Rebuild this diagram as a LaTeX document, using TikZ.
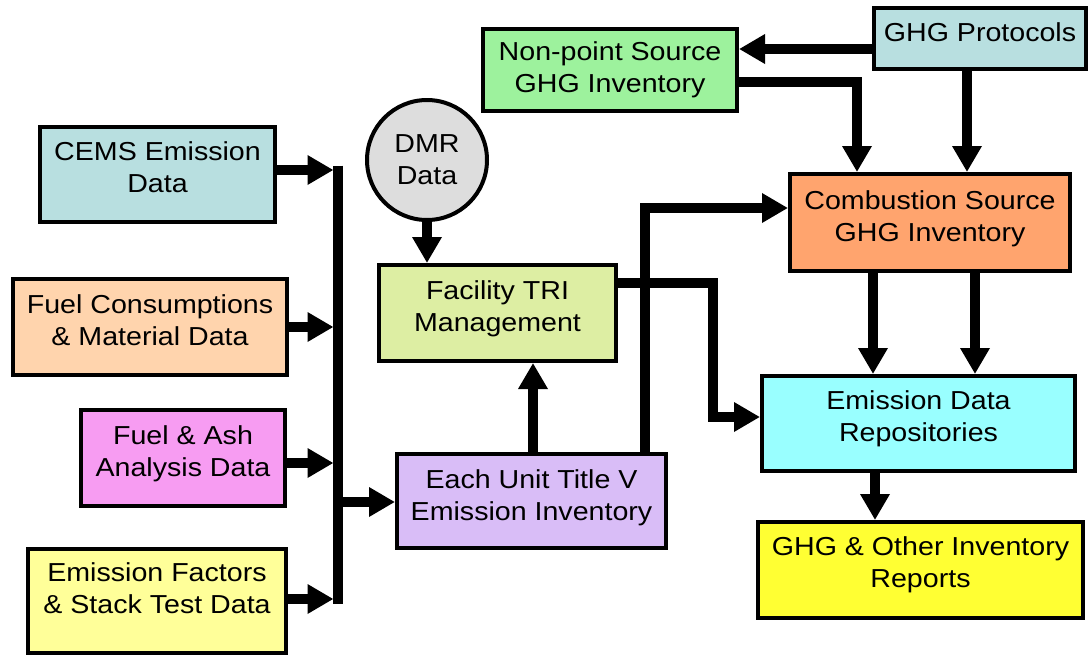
\documentclass[tikz,border=0pt]{standalone}
\usepackage{fontspec}
\setmainfont{Liberation Sans}[FakeStretch=1.1]
\usetikzlibrary{arrows.meta}
\definecolor{cemsC}{HTML}{B8DFE0}
\definecolor{fuelC}{HTML}{FFD4AD}
\definecolor{ashC}{HTML}{F79CF2}
\definecolor{efC}{HTML}{FFFF99}
\definecolor{dmrC}{HTML}{DDDDDD}
\definecolor{triC}{HTML}{DDEEA3}
\definecolor{tvC}{HTML}{D9BDF7}
\definecolor{npC}{HTML}{9DF29D}
\definecolor{gpC}{HTML}{B8DFE0}
\definecolor{csC}{HTML}{FFA46E}
\definecolor{repC}{HTML}{99FFFF}
\definecolor{rptC}{HTML}{FFFF33}
\tikzset{
  box/.style={draw=black, line width=4pt, inner sep=2pt, align=center,
    font=\fontsize{26}{32}\selectfont, text=black},
  arr/.style={line width=9.5pt, -{Triangle[length=26pt,width=28pt]}},
  bar/.style={line width=9.5pt},
}
\begin{document}
\begin{tikzpicture}[x=1pt,y=-1pt]
\useasboundingbox (0,0) rectangle (1090,656);
% left input boxes
\node[box, fill=cemsC, minimum width=235pt, minimum height=95pt, text depth=15pt] (cems) at (157.5,174.5) {CEMS Emission\\Data};
\node[box, fill=fuelC, minimum width=274pt, minimum height=96pt, text depth=14pt] (fuel) at (150,327) {Fuel Consumptions\\\& Material Data};
\node[box, fill=ashC, minimum width=204pt, minimum height=96pt, text depth=13pt] (ash) at (183,458) {Fuel \& Ash\\Analysis Data};
\node[box, fill=efC, minimum width=258pt, minimum height=104pt, text depth=26pt] (ef) at (157,601) {Emission Factors\\\& Stack Test Data};
% middle
\node[box, circle, fill=dmrC, minimum size=120pt, inner sep=0pt] (dmr) at (427,160) {DMR\\Data};
\node[box, fill=triC, minimum width=237pt, minimum height=96pt, text depth=14pt] (tri) at (497.5,313) {Facility TRI\\Management};
\node[box, fill=tvC, minimum width=269pt, minimum height=94pt, text depth=12pt] (tv) at (531.5,501) {Each Unit Title V\\Emission Inventory};
% right
\node[box, fill=npC, minimum width=254pt, minimum height=82pt] (np) at (610,70) {Non-point Source\\GHG Inventory};
\node[box, fill=gpC, minimum width=212pt, minimum height=61pt, text depth=12pt] (gp) at (980,38.5) {GHG Protocols};
\node[box, fill=csC, minimum width=280pt, minimum height=97pt, text depth=13pt] (cs) at (930,222.5) {Combustion Source\\GHG Inventory};
\node[box, fill=repC, minimum width=313pt, minimum height=95pt, text depth=15pt] (rep) at (918.5,423.5) {Emission Data\\Repositories};
\node[box, fill=rptC, minimum width=325pt, minimum height=96pt, text depth=16pt] (rpt) at (920.5,570) {GHG \& Other Inventory\\Reports};
% bus
\coordinate (busTop) at (338,165.5);
\coordinate (busBot) at (338,603.5);
\coordinate (busIn) at (333.5,0);
\coordinate (busOut) at (338,502);
\draw[bar] (busTop) -- (busBot);
\draw[arr] ([yshift=4.5pt]cems.east) coordinate (a1) -- (a1 -| busIn);
\draw[arr] (fuel.east) -- (fuel.east -| busIn);
\draw[arr] ([yshift=-5pt]ash.east) coordinate (a3) -- (a3 -| busIn);
\draw[arr] ([yshift=2pt]ef.east) coordinate (a4) -- (a4 -| busIn);
\draw[arr] (busOut) -- (busOut -| tv.west);
% middle connectors
\draw[arr] (dmr.south) -- (dmr.south |- tri.north);
\draw[arr] ([xshift=1.5pt]tv.north) coordinate (t1) -- (t1 |- tri.south);
\draw[arr] ([xshift=113.5pt]tv.north) |- ([yshift=14.5pt]cs.west);
\coordinate (k) at (713,417);
\draw[arr] ([yshift=30pt]tri.east) -| (k) -- (k -| rep.west);
% right connectors
\draw[arr] ([yshift=-10.5pt]gp.west) coordinate (g1) -- (g1 -| np.east);
\draw[arr] ([yshift=-12pt]np.east) -| ([xshift=-73pt]cs.north);
\draw[arr] ([xshift=-13pt]gp.south) -- ([xshift=37pt]cs.north);
\draw[arr] ([xshift=-57pt]cs.south) coordinate (c1) -- (c1 |- rep.north);
\draw[arr] ([xshift=45pt]cs.south) coordinate (c2) -- (c2 |- rep.north);
\draw[arr] ([xshift=-43.5pt]rep.south) coordinate (r1) -- (r1 |- rpt.north);
\end{tikzpicture}
\end{document}
